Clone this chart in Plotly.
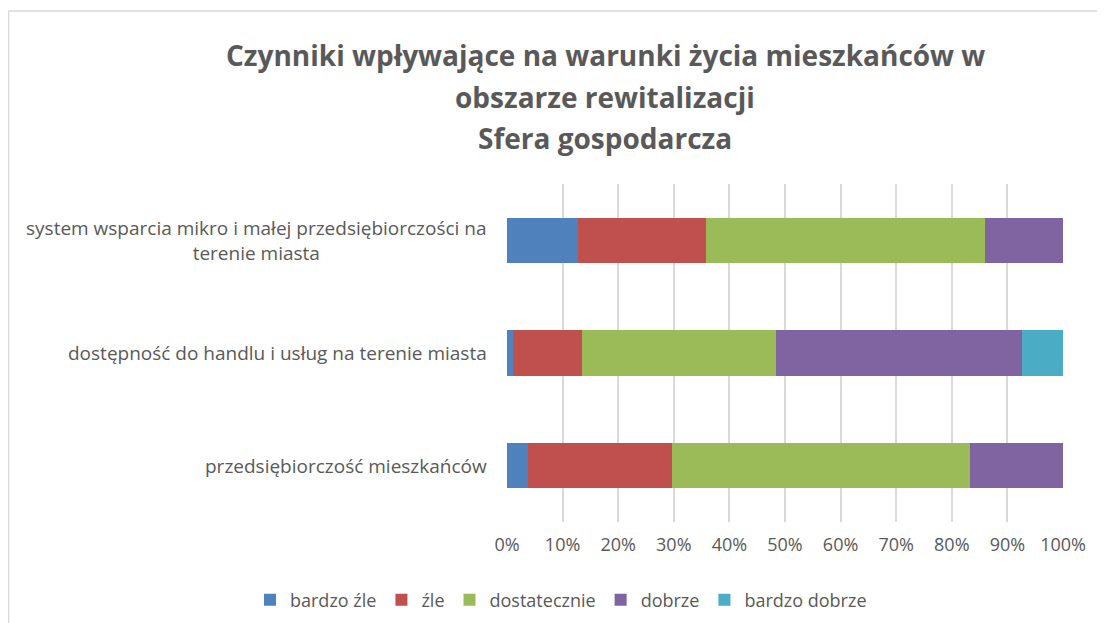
import plotly.graph_objects as go

categories = [
    "system wsparcia mikro i małej przedsiębiorczości na terenie miasta",
    "dostępność do handlu i usług na terenie miasta",
    "przedsiębiorczość mieszkańców",
]
category_labels = [
    "system wsparcia mikro i małej przedsiębiorczości na<br>terenie miasta",
    "dostępność do handlu i usług na terenie miasta",
    "przedsiębiorczość mieszkańców",
]
series_names = ["bardzo źle", "źle", "dostatecznie", "dobrze", "bardzo dobrze"]
bardzo_zle = [12.8, 1.0, 3.8]
zle = [23.0, 12.4, 25.9]
dostatecznie = [50.2, 34.9, 53.5]
dobrze = [14.0, 44.4, 16.8]
bardzo_dobrze = [0.0, 7.3, 0.0]
series_values = [bardzo_zle, zle, dostatecznie, dobrze, bardzo_dobrze]
colors = ["#4F81BD", "#C0504D", "#9BBB59", "#8064A2", "#4BACC6"]
x_ticks = list(range(0, 101, 10))
x_tick_labels = [f"{v}%" for v in x_ticks]

FONT = "Open Sans"
GRAY = "#595959"

fig = go.Figure()
for name, vals, col in zip(series_names, series_values, colors):
    fig.add_trace(go.Bar(
        y=categories, x=vals, name=name, orientation="h",
        marker=dict(color=col, line=dict(width=0)),
        hoverinfo="x+name",
    ))

# page offset caused by the default body margin
OFF = 8
W, H = 1105 - OFF, 623 - OFF
# plot area in page pixels
PL, PR, PT, PB = 507, 1063, 184, 522
L, R, T, B = PL - OFF, PR - OFF, PT - OFF, PB - OFF


def px_x(page_px):
    return (page_px - PL) / (PR - PL)


def px_y(page_py):
    return (PB - page_py) / (PB - PT)


fig.update_layout(
    width=W, height=H,
    barmode="stack",
    bargap=0.6,
    margin=dict(l=L, r=W - R, t=T, b=H - B, autoexpand=False),
    paper_bgcolor="white", plot_bgcolor="white",
    font=dict(family=FONT, color=GRAY, size=18),
    showlegend=True,
    legend=dict(orientation="h",
                x=px_x(250), xanchor="left",
                y=px_y(600), yanchor="middle",
                font=dict(family=FONT, size=18, color=GRAY),
                itemwidth=30, traceorder="normal"),
    xaxis=dict(range=[0, 100], tickmode="array", tickvals=x_ticks,
               ticktext=x_tick_labels,
               showgrid=True, gridcolor="#D9D9D9", gridwidth=1.5,
               zeroline=False, showline=False, ticks="",
               tickfont=dict(family=FONT, size=18, color=GRAY),
               ticklabelstandoff=10, fixedrange=True),
    yaxis=dict(autorange="reversed", categoryorder="array",
               categoryarray=categories,
               showticklabels=False,
               showgrid=False, zeroline=False, showline=False, ticks="",
               fixedrange=True),
)

# category labels (centred lines, right edge at fixed gap from the plot)
for cat, lab in zip(categories, category_labels):
    fig.add_annotation(text=lab, xref="paper", yref="y",
                       x=px_x(489), y=cat, xanchor="right", yanchor="middle",
                       align="center", showarrow=False,
                       font=dict(family=FONT, size=19, color=GRAY))

title_lines = [
    ("Czynniki wpływające na warunki życia mieszkańców w", 55),
    ("obszarze rewitalizacji", 97),
    ("Sfera gospodarcza", 138),
]
for txt, py in title_lines:
    fig.add_annotation(text="<b>" + txt + "</b>", xref="paper", yref="paper",
                       x=px_x(605), y=px_y(py), xanchor="center", yanchor="middle",
                       showarrow=False,
                       font=dict(family=FONT, size=28, color=GRAY))

# chart area border (light gray)
fig.add_shape(type="line", xref="paper", yref="paper",
              x0=px_x(8.5), x1=px_x(1120), y0=px_y(11), y1=px_y(11),
              line=dict(color="#D9D9D9", width=1.5))
fig.add_shape(type="line", xref="paper", yref="paper",
              x0=px_x(8.5), x1=px_x(8.5), y0=px_y(11), y1=px_y(640),
              line=dict(color="#D9D9D9", width=1.5))

fig.write_html("out.html")
